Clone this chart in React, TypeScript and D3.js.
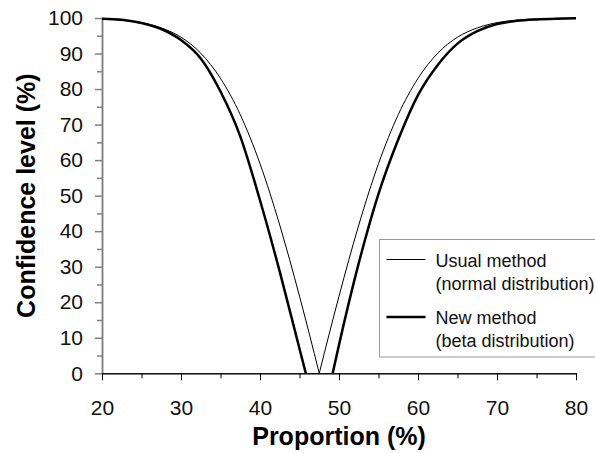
import React, { useRef, useEffect } from 'react';
import * as d3 from 'd3';

// Usual method (normal distribution), two branches meeting at the tip
const usualLeftP = [20, 22.5, 25, 27.5, 30, 32.5, 35, 37.5, 40, 42.5, 45, 47.5];
const usualLeftV = [99.7, 99.4, 98.7, 97.2, 94.6, 90.1, 83.0, 72.8, 59.0, 41.7, 21.7, 0];
const usualRightP = [47.5, 50, 52.5, 55, 57.5, 60, 62.5, 65, 67.5, 70, 72.5, 75, 77.5, 80];
const usualRightV = [0, 21.7, 41.7, 59.0, 72.8, 83.0, 90.1, 94.6, 97.2, 98.7, 99.4, 99.7, 99.9, 99.95];

// New method (beta distribution)
const newLeftP = [20, 22.5, 25, 27.5, 30, 32.5, 35, 37.5, 40, 42.5, 45, 45.8];
const newLeftV = [99.8, 99.5, 98.6, 96.9, 93.8, 88.6, 79.3, 66.7, 48.7, 28.6, 6.9, 0];
const newRightP = [49.2, 50, 52.5, 55, 57.5, 60, 62.5, 65, 67.5, 70, 72.5, 75, 77.5, 80];
const newRightV = [0, 8, 31, 50.5, 65.8, 78.3, 86.8, 92.8, 96.3, 98.3, 99.2, 99.6, 99.8, 99.9];

const xTicks = [20, 30, 40, 50, 60, 70, 80];
const xMinor = [25, 35, 45, 55, 65, 75];
const yTicks = [0, 10, 20, 30, 40, 50, 60, 70, 80, 90, 100];
const yMinor = [5, 15, 25, 35, 45, 55, 65, 75, 85, 95];

const legendItems = [
  { label: ['Usual method', '(normal distribution)'], width: 1 },
  { label: ['New method', '(beta distribution)'], width: 2.5 },
];

const FONT = '"Liberation Sans", Arial, Helvetica, sans-serif';

const App = () => {
  const svgRef = useRef(null);

  useEffect(() => {
    const svg = d3.select(svgRef.current);
    svg.selectAll('*').remove();

    const left = 102, right = 576, top = 18, bottom = 373.3;

    const x = d3.scaleLinear().domain([20, 80]).range([left, right]);
    const y = d3.scaleLinear().domain([0, 100]).range([bottom, top]);

    // y axis (grey)
    const yAxis = svg.append('g').attr('transform', `translate(${left},0)`);
    yAxis.call(d3.axisLeft(y).tickValues(yTicks).tickSize(7).tickSizeOuter(0).tickPadding(12));
    yAxis.append('g').call(d3.axisLeft(y).tickValues(yMinor).tickSize(5).tickSizeOuter(0).tickFormat(() => ''));
    yAxis.selectAll('path, line').attr('stroke', '#808080').attr('stroke-width', 1.5);
    yAxis.selectAll('text')
      .attr('fill', '#111')
      .style('font-family', FONT)
      .style('font-size', '21px');

    // x axis (black)
    const xAxis = svg.append('g').attr('transform', `translate(0,${bottom})`);
    xAxis.call(d3.axisBottom(x).tickValues(xTicks).tickSize(7).tickSizeOuter(0).tickPadding(20));
    xAxis.append('g').call(d3.axisBottom(x).tickValues(xMinor).tickSize(5).tickSizeOuter(0).tickFormat(() => ''));
    xAxis.selectAll('path, line').attr('stroke', '#000').attr('stroke-width', 1);
    xAxis.selectAll('text')
      .attr('fill', '#111')
      .style('font-family', FONT)
      .style('font-size', '21px');

    // curves
    const line = d3.line<[number, number]>()
      .x(d => x(d[0]))
      .y(d => y(d[1]))
      .curve(d3.curveMonotoneX);

    const branches = [
      { p: usualLeftP, v: usualLeftV, w: 1 },
      { p: usualRightP, v: usualRightV, w: 1 },
      { p: newLeftP, v: newLeftV, w: 2.5 },
      { p: newRightP, v: newRightV, w: 2.5 },
    ];
    branches.forEach(b => {
      svg.append('path')
        .datum(b.p.map((p, i) => [p, b.v[i]] as [number, number]))
        .attr('fill', 'none')
        .attr('stroke', '#000')
        .attr('stroke-width', b.w)
        .attr('d', line);
    });

    // axis titles
    svg.append('text')
      .attr('x', (left + right) / 2)
      .attr('y', 445)
      .attr('text-anchor', 'middle')
      .style('font-family', FONT)
      .style('font-weight', 'bold')
      .style('font-size', '25px')
      .text('Proportion (%)');

    svg.append('text')
      .attr('transform', `translate(35,${(top + bottom) / 2}) rotate(-90)`)
      .attr('text-anchor', 'middle')
      .style('font-family', FONT)
      .style('font-weight', 'bold')
      .style('font-size', '25px')
      .text('Confidence level (%)');

    // legend
    const lg = svg.append('g').attr('transform', 'translate(379.5,239.5)');
    lg.append('rect')
      .attr('width', 240)
      .attr('height', 117.5)
      .attr('fill', '#fff')
      .attr('stroke', '#999')
      .attr('stroke-width', 1);
    legendItems.forEach((item, i) => {
      const g = lg.append('g').attr('transform', `translate(0,${20 + i * 57.5})`);
      g.append('line')
        .attr('x1', 7).attr('x2', 46)
        .attr('stroke', '#000')
        .attr('stroke-width', item.width);
      item.label.forEach((t, j) => {
        g.append('text')
          .attr('x', 56)
          .attr('y', 7 + j * 23)
          .style('font-family', FONT)
          .style('font-size', '18px')
          .attr('fill', '#111')
          .text(t);
      });
    });
  }, []);

  return (
    <svg
      ref={svgRef}
      width="595"
      height="453"
      style={{ position: 'absolute', left: 0, top: 0, background: '#fff' }}
    ></svg>
  );
};

export default App;
